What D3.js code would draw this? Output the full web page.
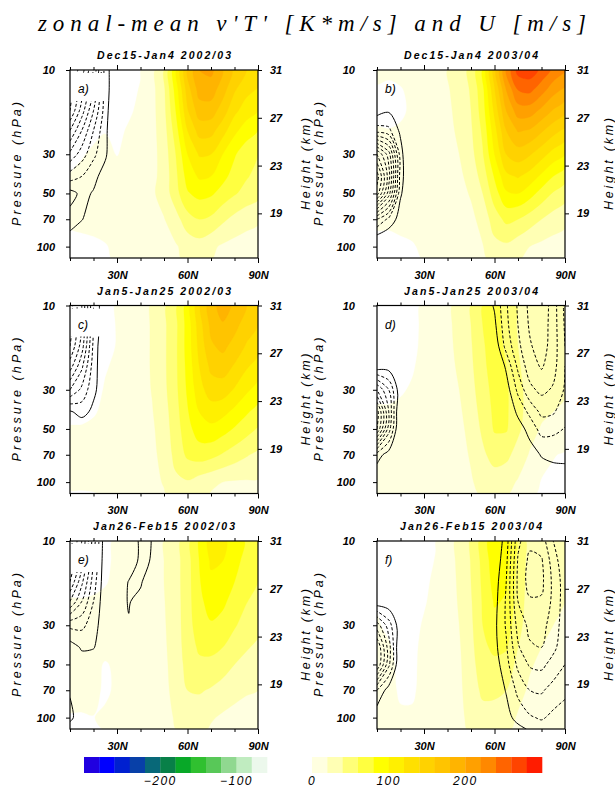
<!DOCTYPE html>
<html>
<head>
<meta charset="utf-8">
<script src="https://cdn.jsdelivr.net/npm/d3@7"></script>
<style>
  html, body { margin: 0; padding: 0; background: #fff; }
  svg { display: block; }
</style>
</head>
<body>
<svg id="chart" width="615" height="789"></svg>
<script>
// ---- grid ----
const lats   = [10, 15, 20, 25, 30, 35, 40, 45, 50, 55, 60, 65, 70, 75, 80, 85, 90];
const levels = [10, 13, 17, 22, 30, 40, 50, 70, 100, 116];   // hPa, top to bottom

// ---- axis ticks ----
const pressureTicks = [10, 30, 50, 70, 100];
const heightTicks   = [31, 27, 23, 19];
const latTicks      = [10, 20, 30, 40, 50, 60, 70, 80, 90];
const latLabelled   = [30, 60, 90];

// ---- shading levels (v'T', K*m/s) and colours ----
const vtThresholds = [0, 20, 40, 60, 80, 100, 120, 140, 160, 180, 200, 220, 240, 260, 280];
const posColors = ["#ffffe0", "#ffffb4", "#ffff78", "#ffff40", "#ffff00", "#fff000", "#ffe000",
                   "#ffd200", "#ffc400", "#ffb400", "#ffa000", "#ff8800", "#ff6400", "#ff4400", "#ff1c00"];
const negLevels = [-300, -280, -260, -240, -220, -200, -180, -160, -140, -120, -100, -80, -60];
const negColors = ["#2000e0", "#0000ff", "#0020d0", "#0840a8", "#086878", "#088048",
                   "#08a828", "#30c030", "#58c858", "#90d890", "#c0ecc0", "#ecf8ec"];
const negBarTicks = [-200, -100];
const posBarTicks = [0, 100, 200];

// ---- U contour levels (m/s): zero solid, easterlies dashed ----
const uLevels = [0, -4, -8, -12, -16, -20, -24, -28, -32, -36, -40, -44, -48];

// ---- v'T' fields, rows = levels, columns = lats ----
const vtA = [
  [-30, -30, -25, -20, -12, -6, -1, 14, 38, 95, 160, 200, 205, 180, 155, 140, 132],
  [-25, -25, -22, -16, -10, -4, 1, 14, 36, 88, 150, 188, 190, 168, 142, 126, 118],
  [-20, -20, -16, -10, -6, -2, 3, 14, 34, 80, 138, 170, 170, 150, 125, 110, 100],
  [-10, -6, -3, -0.5, -3, 1.5, 5, 14, 31, 70, 120, 148, 147, 128, 105, 90, 80],
  [-4, -1, 2, 3, -0.5, 3, 8, 14, 28, 60, 100, 122, 120, 100, 82, 68, 60],
  [0.5, 3, 4, 5, 5, 7, 10, 15, 27, 55, 88, 103, 100, 86, 72, 62, 54],
  [2, 4, 5, 6, 6, 8, 12, 17, 28, 52, 78, 86, 83, 72, 62, 53, 46],
  [2, 4, 5, 6, 6, 8, 10, 13, 19, 32, 52, 60, 56, 44, 34, 27, 23],
  [-4, -4, -3, -1, 3, 6, 8, 10, 13, 18, 27, 31, 24, 17, 13, 11, 9],
  [-8, -8, -6, -2, 2, 5, 7, 9, 12, 17, 24, 27, 21, 15, 11, 9, 8]
];
const vtB = [
  [5, 3, 4, 6, 8, 12, 20, 30, 45, 80, 150, 220, 268, 272, 255, 235, 222],
  [-2, -3, -1, 3, 7, 11, 18, 28, 42, 74, 138, 200, 240, 245, 228, 208, 195],
  [-4, -5, -2, 2, 6, 10, 16, 26, 40, 70, 125, 180, 210, 210, 195, 178, 165],
  [1, 0.5, 1.5, 4, 6, 9, 14, 24, 37, 64, 112, 160, 182, 178, 163, 148, 135],
  [3, 3, 4, 5, 6, 8, 12, 20, 33, 58, 100, 140, 150, 142, 128, 112, 100],
  [3, 3, 4, 5, 6, 7, 10, 16, 27, 48, 82, 115, 122, 112, 96, 80, 68],
  [3, 3, 4, 5, 6, 7, 9, 13, 22, 40, 70, 97, 100, 88, 72, 58, 48],
  [2, 2, 3, 4, 5, 6, 8, 10, 15, 27, 50, 65, 60, 50, 40, 31, 25],
  [-3, -3, -2, -1, 2, 4, 6, 8, 11, 19, 34, 36, 28, 20, 15, 12, 10],
  [-6, -6, -5, -3, 1, 3, 5, 7, 9, 16, 28, 29, 22, 15, 10, 6, -1]
];
const vtC = [
  [-20, -20, -15, -8, 2, 6, 12, 22, 36, 55, 88, 135, 172, 188, 176, 160, 150],
  [-18, -18, -14, -7, 1, 6, 12, 22, 36, 55, 88, 130, 165, 178, 166, 150, 140],
  [-16, -16, -12, -6, 1, 6, 12, 22, 36, 56, 88, 126, 157, 165, 153, 138, 128],
  [-12, -12, -6, -1, 2, 6, 12, 22, 36, 56, 86, 120, 145, 150, 138, 123, 112],
  [-9, -9, -4, 1, 3, 6, 12, 21, 35, 55, 83, 112, 130, 130, 118, 104, 92],
  [-4, -3, -1, 2, 3, 6, 11, 19, 32, 52, 78, 100, 110, 106, 95, 83, 72],
  [1, 1, 2, 3, 4, 6, 10, 17, 30, 50, 73, 90, 95, 88, 78, 68, 58],
  [2, 2, 3, 4, 5, 6, 9, 15, 27, 46, 64, 70, 66, 58, 50, 42, 35],
  [2, 2, 3, 4, 5, 6, 8, 12, 22, 36, 38, 30, 24, 20, 18, 18, 18],
  [-0.8, -0.8, -0.5, 1, 3, 5, 7, 10, 18, 30, 32, 25, 19, 15, 13, 12, 12]
];
const vtD = [
  [-12, -12, -10, -5, 3, 8, 16, 26, 40, 60, 66, 52, 38, 32, 30, 28, 26],
  [-10, -10, -8, -4, 3, 8, 16, 26, 40, 60, 67, 54, 38, 32, 30, 28, 26],
  [-8, -8, -6, -3, 3, 8, 15, 25, 38, 58, 68, 57, 40, 32, 30, 28, 26],
  [-5, -5, -3, -1, 3, 7, 14, 23, 36, 56, 68, 60, 42, 32, 29, 27, 25],
  [-2, -2, -1, 1, 3, 6, 12, 20, 33, 52, 66, 63, 45, 33, 28, 25, 22],
  [1, 1, 2, 3, 4, 6, 10, 17, 29, 48, 64, 63, 46, 32, 24, 20, 17],
  [2, 2, 3, 4, 5, 6, 9, 15, 26, 44, 62, 62, 44, 28, 18, 14, 12],
  [2, 2, 3, 4, 5, 6, 8, 13, 22, 36, 48, 45, 32, 18, 6, 1, -2],
  [2, 2, 2, 3, 4, 5, 7, 11, 18, 27, 30, 27, 18, 8, -1, -4, -5],
  [1, 1, 2, 3, 4, 5, 6, 9, 15, 23, 25, 22, 14, 4, -3, -6, -7]
];
const vtE = [
  [-10, -10, -8, -4, 3, 5, 8, 13, 20, 32, 52, 82, 108, 105, 90, 78, 70],
  [-8, -8, -6, -3, 3, 5, 8, 13, 20, 32, 52, 80, 103, 100, 86, 74, 66],
  [-5, -5, -4, -1, 3, 5, 8, 13, 20, 32, 52, 78, 96, 93, 80, 68, 60],
  [1, 1, 2, 3, 4, 5, 8, 12, 19, 31, 52, 75, 88, 84, 72, 61, 53],
  [2, 2, 3, 4, 5, 6, 8, 12, 18, 30, 52, 70, 78, 73, 62, 52, 45],
  [2, 2, 3, 4, 4, 5, 7, 11, 17, 29, 50, 63, 65, 60, 50, 42, 36],
  [2, 2, 3, -1, 2, 5, 6, 10, 16, 28, 47, 56, 55, 49, 40, 34, 30],
  [2, 2, 3, -2, 2, 4, 5, 9, 15, 26, 40, 42, 38, 32, 26, 22, 20],
  [-0.5, -0.5, -0.3, 2, 3, 4, 5, 8, 13, 22, 30, 28, 22, 17, 14, 12, 12],
  [-4, -4, -3, 1, 3, 4, 5, 7, 12, 20, 26, 24, 18, 14, 11, 10, 10]
];
const vtF = [
  [-6, -8, -8, -6, -3, -0.5, 12, 25, 42, 68, 95, 88, 55, 32, 28, 25, 22],
  [-5, -7, -7, -5, -3, 0.5, 12, 24, 41, 66, 92, 86, 54, 32, 28, 25, 22],
  [-3, -6, -6, -5, -2, 2, 11, 23, 40, 64, 88, 82, 52, 32, 27, 24, 21],
  [-1, -4, -5, -4, -1, 3, 10, 22, 38, 62, 82, 78, 50, 31, 26, 22, 20],
  [1, -2, -4, -3, 1, 4, 9, 20, 36, 60, 74, 72, 46, 30, 24, 20, 18],
  [2, 1, -3, -2, 2, 4, 8, 18, 34, 56, 64, 62, 40, 26, 20, 16, 14],
  [2, 2, -2, -1.5, 2, 4, 8, 17, 32, 52, 56, 52, 34, 22, 16, 13, 12],
  [2, 2, -1, -1, 2, 4, 8, 16, 30, 44, 44, 40, 26, 17, 12, 9, 8],
  [2, 2, 1, 1, 3, 4, 7, 14, 27, 33, 32, 28, 18, 12, 8, 7, 6],
  [2, 2, 1.5, 2, 3, 4, 7, 13, 24, 28, 28, 24, 15, 10, 7, 6, 5]
];

// ---- zonal-mean U fields (m/s), rows = levels, columns = lats ----
const uA = [
  [-36, -30, -20, -2, 4, 10, 16, 22, 28, 34, 40, 42, 40, 34, 26, 18, 10],
  [-34, -26, -16, -2, 4, 10, 16, 22, 28, 34, 40, 42, 40, 34, 26, 18, 10],
  [-32, -22, -12, -2, 6, 10, 16, 22, 28, 34, 38, 40, 38, 32, 25, 17, 10],
  [-24, -16, -8, -1, 5, 10, 15, 20, 26, 32, 36, 38, 36, 30, 24, 16, 10],
  [-15, -10, -5, -0.6, 4, 9, 14, 19, 24, 30, 34, 36, 34, 28, 22, 15, 9],
  [-6, -4, -1, 1.5, 4, 8, 12, 17, 22, 27, 31, 33, 31, 26, 20, 14, 8],
  [1.5, -1, 0.3, 3, 5, 8, 11, 15, 20, 24, 28, 30, 28, 24, 18, 13, 8],
  [-1.5, -0.2, 2, 4, 6, 8, 10, 13, 17, 21, 24, 25, 24, 20, 16, 12, 7],
  [2, 4, 5, 6, 7, 8, 9, 11, 14, 17, 19, 20, 19, 16, 13, 10, 6],
  [4, 6, 7, 7, 7, 8, 9, 10, 12, 15, 17, 18, 17, 14, 11, 8, 5]
];
const uB = [
  [10, 12, 14, 16, 18, 20, 24, 28, 34, 40, 46, 50, 50, 46, 38, 28, 16],
  [6, 8, 10, 12, 14, 18, 22, 27, 33, 39, 45, 48, 48, 44, 36, 27, 15],
  [2, 0.5, 4, 6, 10, 14, 19, 24, 30, 36, 42, 45, 45, 41, 34, 25, 14],
  [-6, -5, 1, 4, 8, 12, 17, 22, 28, 34, 39, 42, 42, 38, 31, 23, 13],
  [-32, -22, -2, 8, 9, 11, 15, 20, 25, 31, 35, 38, 38, 34, 28, 21, 12],
  [-42, -26, -2, 6, 7, 10, 13, 17, 22, 27, 31, 34, 34, 30, 25, 19, 11],
  [-38, -22, -0.5, 4, 6, 9, 12, 15, 19, 23, 27, 29, 29, 26, 22, 17, 10],
  [-8, -3, 2, 4, 6, 8, 10, 13, 16, 19, 22, 24, 24, 22, 18, 14, 8],
  [6, 6, 5, 6, 7, 8, 9, 11, 13, 16, 18, 19, 19, 17, 14, 11, 7],
  [6, 6, 6, 7, 7, 8, 9, 10, 12, 14, 16, 17, 17, 15, 12, 10, 6]
];
const uC = [
  [-30, -20, -4, 4, 6, 10, 14, 20, 26, 32, 38, 42, 42, 38, 30, 22, 12],
  [-30, -20, -4, 4, 6, 10, 14, 20, 26, 32, 38, 42, 42, 38, 30, 22, 12],
  [-28, -18, -3, 5, 6, 10, 14, 19, 25, 31, 37, 40, 40, 36, 29, 21, 12],
  [-22, -13, -2, 4, 6, 9, 13, 18, 24, 30, 35, 38, 38, 34, 28, 20, 11],
  [-12, -7, -1, 3, 5, 8, 12, 17, 22, 28, 33, 35, 35, 32, 26, 19, 10],
  [0.5, -1.5, 1, 3, 5, 7, 11, 15, 20, 25, 30, 32, 32, 29, 24, 17, 10],
  [3, 3, 3, 4, 5, 7, 10, 14, 18, 23, 27, 29, 29, 26, 21, 16, 9],
  [4, 4, 4, 5, 6, 7, 9, 12, 15, 19, 22, 24, 24, 22, 18, 14, 8],
  [5, 5, 5, 6, 6, 7, 8, 10, 13, 16, 18, 19, 19, 17, 14, 11, 7],
  [5, 5, 6, 6, 6, 7, 8, 9, 12, 14, 16, 17, 17, 15, 12, 10, 6]
];
const uD = [
  [8, 9, 10, 12, 14, 14, 12, 10, 7, 3, -0.5, -7.5, -12.5, -17, -19, -14, -7],
  [6, 7, 8, 10, 12, 12, 11, 9, 7, 4, 1, -7, -12, -16.5, -18.5, -14, -7.5],
  [4, 5, 6, 8, 10, 11, 10, 9, 7, 5, 3, -5.5, -11, -15.5, -18, -14, -8],
  [3, 2, 4, 6, 8, 9, 9, 8, 7, 6, 5, -0.8, -9, -14, -16.5, -13.5, -8],
  [-16, -8, 3, 5, 7, 8, 8, 8, 7, 6, 5, 2, -5, -11, -13, -11.5, -7.5],
  [-30, -12, 6, 5, 6, 7, 7, 7, 7, 6, 5, 4, -1, -5, -9, -8.5, -5.5],
  [-28, -10, 6, 5, 6, 6, 6, 6, 6, 6, 5, 4, 2, -1.5, -5.5, -5, -3.8],
  [-2, 2, 4, 5, 5, 5, 5, 5, 5, 5, 5, 4, 4, 2, -0.3, -1, -1.2],
  [4, 3, 4, 4, 4, 4, 4, 4, 4, 4, 4, 4, 4, 3, 3, 2.5, 2.5],
  [3, 3, 4, 4, 4, 4, 4, 4, 4, 4, 4, 4, 4, 3, 3, 3, 3]
];
const uE = [
  [-34, -24, -10, 3, 4, 4, -1, 0.1, 5, 12, 20, 26, 28, 26, 20, 14, 8],
  [-32, -22, -8, 3, 4, 3, -1, 0.3, 5, 12, 20, 26, 28, 26, 20, 14, 8],
  [-28, -17, -6, 3, 3, -0.2, -0.7, 4, 7, 12, 19, 25, 27, 25, 19, 13, 8],
  [-20, -12, -4, 3, 2, -0.3, 1.5, 5, 8, 12, 18, 23, 25, 23, 18, 12, 7],
  [-5, -5, -2, 3, 3, 0.3, 3, 6, 9, 12, 17, 21, 23, 21, 16, 11, 7],
  [2, -0.5, -0.3, 3, 4, 4, 5, 7, 9, 12, 15, 18, 20, 18, 14, 10, 6],
  [3, 2, 3, 4, 5, 5, 6, 7, 9, 11, 13, 15, 16, 15, 12, 9, 6],
  [0.3, 3, 4, 5, 5, 5, 6, 7, 8, 10, 11, 12, 13, 12, 10, 8, 5],
  [-0.8, 2, 4, 5, 5, 5, 6, 6, 7, 8, 9, 10, 10, 9, 8, 6, 4],
  [1.5, 3, 4, 5, 5, 5, 6, 6, 7, 8, 9, 9, 9, 8, 7, 5, 3]
];
const uF = [
  [8, 9, 10, 11, 12, 12, 11, 10, 8, 6, 4, -2, -15, -19, -18, -12, -8],
  [6, 7, 8, 9, 10, 10, 9, 8, 7, 5, 3, -3, -16.5, -21, -20.5, -14, -9],
  [4, 5, 6, 7, 8, 8, 8, 7, 6, 4, 2, -4, -17, -21.5, -21, -15, -10],
  [3, 3, 4, 5, 6, 7, 7, 6, 5, 3.5, 1.5, -4.5, -16, -19.5, -19.5, -15, -10],
  [-14, -6, 3, 4, 5, 6, 6, 5, 4, 3, 1, -4.5, -13.5, -17, -17.5, -14, -10],
  [-24, -10, 5, 4, 5, 5, 5, 5, 4, 3, 1.2, -3.5, -11.5, -15.5, -16, -13, -9.5],
  [-24, -9, 5, 4, 4, 5, 5, 5, 4, 3, 2, -2.5, -9, -12.5, -13, -10.5, -8],
  [-4, 2, 4, 4, 4, 4, 4, 4, 4, 3.5, 3, -0.3, -5, -8, -8.5, -6.5, -5],
  [3, 3, 4, 4, 4, 4, 4, 4, 4, 4, 5, 1.5, -1.5, -3.5, -4.5, -3, -2],
  [4, 4, 4, 4, 4, 4, 4, 4, 4, 4, 5, 2.5, 1.2, -0.5, -2, -1, -0.5]
];

// ---- panel layout ----
const panels = [
  { vt: vtA, u: uA, title: "Dec15-Jan4 2002/03",  tag: "a)", col: 0, row: 0, gapLat: 25 },
  { vt: vtB, u: uB, title: "Dec15-Jan4 2003/04",  tag: "b)", col: 1, row: 0 },
  { vt: vtC, u: uC, title: "Jan5-Jan25 2002/03",  tag: "c)", col: 0, row: 1, gapLat: 23 },
  { vt: vtD, u: uD, title: "Jan5-Jan25 2003/04",  tag: "d)", col: 1, row: 1 },
  { vt: vtE, u: uE, title: "Jan26-Feb15 2002/03", tag: "e)", col: 0, row: 2, gapLat: 23 },
  { vt: vtF, u: uF, title: "Jan26-Feb15 2003/04", tag: "f)", col: 1, row: 2 }
];
const colX = [70, 377];
const rowY = [70, 305.5, 541];
const PW = 188, PH = 188;
const pTop = 10, pBottom = 116;
const gapP = 15;            // U is not contoured in the tropics above this level
const scaleHeightKm = 6.42; // log-pressure height conversion
const sansFont = "'Liberation Sans', Arial, sans-serif";

const svg = d3.select("#chart");
const lineOpen = d3.line().curve(d3.curveCatmullRom.alpha(0.5));
const lineClosed = d3.line().curve(d3.curveCatmullRomClosed.alpha(0.5));

// contour grid index -> coordinate (value i sits at index i + 0.5)
function clampIdx(c, n) { return Math.max(0, Math.min(n - 1, c - 0.5)); }
function idxLat(c) {
  const t = clampIdx(c, lats.length);
  const i = Math.min(Math.floor(t), lats.length - 2);
  return lats[i] + (t - i) * (lats[i + 1] - lats[i]);
}
function idxP(c) {
  const t = clampIdx(c, levels.length);
  const i = Math.min(Math.floor(t), levels.length - 2);
  const a = Math.log(levels[i]), b = Math.log(levels[i + 1]);
  return Math.exp(a + (t - i) * (b - a));
}

function ringPoints(ring, x, y) {
  const out = [];
  for (const [cx, cy] of ring) {
    const tx = clampIdx(cx, lats.length), ty = clampIdx(cy, levels.length);
    const px = x(idxLat(cx)), py = y(idxP(cy));
    const last = out[out.length - 1];
    if (last && Math.abs(last[0] - px) < 0.01 && Math.abs(last[1] - py) < 0.01) continue;
    const pt = [px, py];
    pt.edge = [tx <= 0, tx >= lats.length - 1, ty <= 0, ty >= levels.length - 1];
    out.push(pt);
  }
  if (out.length > 1) {
    const a = out[0], b = out[out.length - 1];
    if (Math.abs(a[0] - b[0]) < 0.01 && Math.abs(a[1] - b[1]) < 0.01) out.pop();
  }
  return out;
}

function fillPath(mp, x, y) {
  let d = "";
  mp.coordinates.forEach(poly => poly.forEach(ring => {
    const pts = ringPoints(ring, x, y);
    if (pts.length > 2) d += lineClosed(pts);
  }));
  return d;
}

function sameEdge(a, b) { return a.edge.some((e, i) => e && b.edge[i]); }

// isolines without the parts that run along the frame
function linePath(mp, x, y) {
  let d = "";
  mp.coordinates.forEach(poly => poly.forEach(ring => {
    const pts = ringPoints(ring, x, y);
    const n = pts.length;
    if (n < 2) return;
    let start = -1;
    for (let i = 0; i < n; i++) if (sameEdge(pts[i], pts[(i + 1) % n])) { start = i; break; }
    if (start < 0) { if (n > 2) d += lineClosed(pts); return; }
    let cur = null;
    for (let k = 1; k <= n; k++) {
      const i = (start + k) % n, j = (i + 1) % n;
      if (sameEdge(pts[i], pts[j])) {
        if (cur && cur.length > 1) d += lineOpen(cur);
        cur = null;
      } else {
        if (!cur) cur = [pts[i]];
        cur.push(pts[j]);
      }
    }
    if (cur && cur.length > 1) d += lineOpen(cur);
  }));
  return d;
}

const defs = svg.append("defs");
const vtGen = d3.contours().size([lats.length, levels.length]).thresholds(vtThresholds);
const uGen = d3.contours().size([lats.length, levels.length]).thresholds(uLevels.map(v => -v));

// ---- title ----
svg.append("text")
  .attr("x", 312).attr("y", 31)
  .attr("text-anchor", "middle")
  .attr("font-family", "'Liberation Serif', 'DejaVu Serif', serif")
  .attr("font-style", "italic")
  .attr("font-size", 23)
  .attr("textLength", 548).attr("lengthAdjust", "spacing")
  .text("zonal-mean v'T' [K*m/s] and U [m/s]");

panels.forEach((pn, idx) => {
  const x0 = colX[pn.col], y0 = rowY[pn.row];
  const x = d3.scaleLinear().domain([10, 90]).range([x0, x0 + PW]);
  const y = d3.scaleLog().domain([pTop, pBottom]).range([y0, y0 + PH]);
  const z = d3.scaleLinear()
    .domain([31, 31 - scaleHeightKm * Math.log(pBottom / pTop)])
    .range([y0, y0 + PH]);

  defs.append("clipPath").attr("id", "clip" + idx)
    .append("rect").attr("x", x0).attr("y", y0).attr("width", PW).attr("height", PH);
  let uClip = `M${x0},${y0}H${x0 + PW}V${y0 + PH}H${x0}Z`;
  if (pn.gapLat) {
    uClip += `M${x(10)},${y0 + 3}H${x(pn.gapLat)}V${y(gapP)}H${x(10)}Z`;
  }
  defs.append("clipPath").attr("id", "uclip" + idx)
    .append("path").attr("d", uClip).attr("clip-rule", "evenodd");

  const g = svg.append("g");
  g.append("rect").attr("x", x0).attr("y", y0).attr("width", PW).attr("height", PH).attr("fill", "#fff");

  // shaded v'T'
  const fills = g.append("g").attr("clip-path", `url(#clip${idx})`);
  vtGen(pn.vt.flat()).forEach(mp => {
    const k = Math.round(mp.value / 20);
    const d = fillPath(mp, x, y);
    if (d) fills.append("path").attr("d", d).attr("fill", posColors[k])
      .attr("fill-rule", "evenodd").attr("stroke", posColors[k]).attr("stroke-width", 0.3);
  });

  // U isolines (zero and easterlies)
  const lines = g.append("g").attr("clip-path", `url(#uclip${idx})`);
  uGen(pn.u.flat().map(v => -v)).forEach(mp => {
    const level = -mp.value;
    const d = linePath(mp, x, y);
    if (!d) return;
    lines.append("path").attr("d", d)
      .attr("fill", "none").attr("stroke", "#000").attr("stroke-width", 1)
      .attr("stroke-dasharray", level < 0 ? "3,2" : null);
  });

  // frame
  g.append("rect").attr("x", x0).attr("y", y0).attr("width", PW).attr("height", PH)
    .attr("fill", "none").attr("stroke", "#000").attr("stroke-width", 1.2);

  const styleAxis = sel => {
    sel.select(".domain").remove();
    sel.selectAll("line").attr("stroke", "#000").attr("stroke-width", 1);
    sel.selectAll("text")
      .attr("font-family", sansFont).attr("font-weight", "bold")
      .attr("font-style", "italic").attr("font-size", 11).attr("fill", "#000");
  };

  // bottom axis
  const gb = g.append("g").attr("transform", `translate(0,${y0 + PH})`)
    .call(d3.axisBottom(x).tickValues(latTicks).tickSize(3).tickSizeOuter(0).tickPadding(10)
      .tickFormat(d => latLabelled.includes(d) ? d + "N" : ""));
  styleAxis(gb);
  gb.selectAll(".tick line").attr("y2", d => latLabelled.includes(d) ? 5 : 3);

  // top axis
  const gt = g.append("g").attr("transform", `translate(0,${y0})`)
    .call(d3.axisTop(x).tickValues(latTicks).tickSize(3).tickSizeOuter(0).tickFormat(""));
  styleAxis(gt);
  gt.selectAll(".tick line").attr("y2", d => latLabelled.includes(d) ? -5 : -3);

  // pressure axis
  const gl = g.append("g").attr("transform", `translate(${x0},0)`)
    .call(d3.axisLeft(y).tickValues(pressureTicks).tickSize(4).tickSizeOuter(0)
      .tickPadding(pn.col === 0 ? 11 : 18).tickFormat(d3.format("d")));
  styleAxis(gl);

  // height axis
  const gr = g.append("g").attr("transform", `translate(${x0 + PW},0)`)
    .call(d3.axisRight(z).tickValues(heightTicks).tickSize(4).tickSizeOuter(0)
      .tickPadding(8).tickFormat(d3.format("d")));
  styleAxis(gr);

  // labels
  g.append("text")
    .attr("x", x0 + PW / 2).attr("y", y0 - 11)
    .attr("text-anchor", "middle")
    .attr("font-family", sansFont).attr("font-weight", "bold").attr("font-style", "italic")
    .attr("font-size", 10.5)
    .attr("textLength", pn.title.length > 18 ? 142 : 134).attr("lengthAdjust", "spacing")
    .text(pn.title);

  g.append("text")
    .attr("x", x0 + 8).attr("y", y0 + 23)
    .attr("font-family", sansFont).attr("font-style", "italic").attr("font-size", 12)
    .text(pn.tag);

  const pX = pn.col === 0 ? 21 : 323;
  g.append("text")
    .attr("transform", `translate(${pX},${y0 + PH / 2}) rotate(-90)`)
    .attr("text-anchor", "middle")
    .attr("font-family", sansFont).attr("font-style", "italic").attr("font-size", 12.5)
    .attr("textLength", 124).attr("lengthAdjust", "spacing")
    .text("Pressure (hPa)");

  const hX = pn.col === 0 ? 310 : 613;
  g.append("text")
    .attr("transform", `translate(${hX},${y0 + PH / 2}) rotate(-90)`)
    .attr("text-anchor", "middle")
    .attr("font-family", sansFont).attr("font-style", "italic").attr("font-size", 12.5)
    .attr("textLength", 92).attr("lengthAdjust", "spacing")
    .text("Height (km)");
});

// ---- colour bars ----
const barY = 757, barH = 16;
const negScale = d3.scaleLinear().domain([-300, -60]).range([84, 267]);
const posScale = d3.scaleLinear().domain([0, 300]).range([312, 542]);
const bars = svg.append("g");
negColors.forEach((c, i) => {
  bars.append("rect")
    .attr("x", negScale(negLevels[i])).attr("y", barY)
    .attr("width", negScale(negLevels[i + 1]) - negScale(negLevels[i]) + 0.3).attr("height", barH)
    .attr("fill", c);
});
posColors.forEach((c, i) => {
  const lo = vtThresholds[i], hi = i + 1 < vtThresholds.length ? vtThresholds[i + 1] : 300;
  bars.append("rect")
    .attr("x", posScale(lo)).attr("y", barY)
    .attr("width", posScale(hi) - posScale(lo) + 0.3).attr("height", barH)
    .attr("fill", c);
});
const barFmt = d3.format("d");
const barLabel = (v, px) => bars.append("text")
  .attr("x", px).attr("y", 785).attr("text-anchor", "middle")
  .attr("font-family", sansFont).attr("font-style", "italic").attr("font-size", 12)
  .attr("letter-spacing", 1.5)
  .text(barFmt(v));
negBarTicks.forEach(v => barLabel(v, negScale(v)));
posBarTicks.forEach(v => barLabel(v, posScale(v)));
</script>
</body>
</html>
